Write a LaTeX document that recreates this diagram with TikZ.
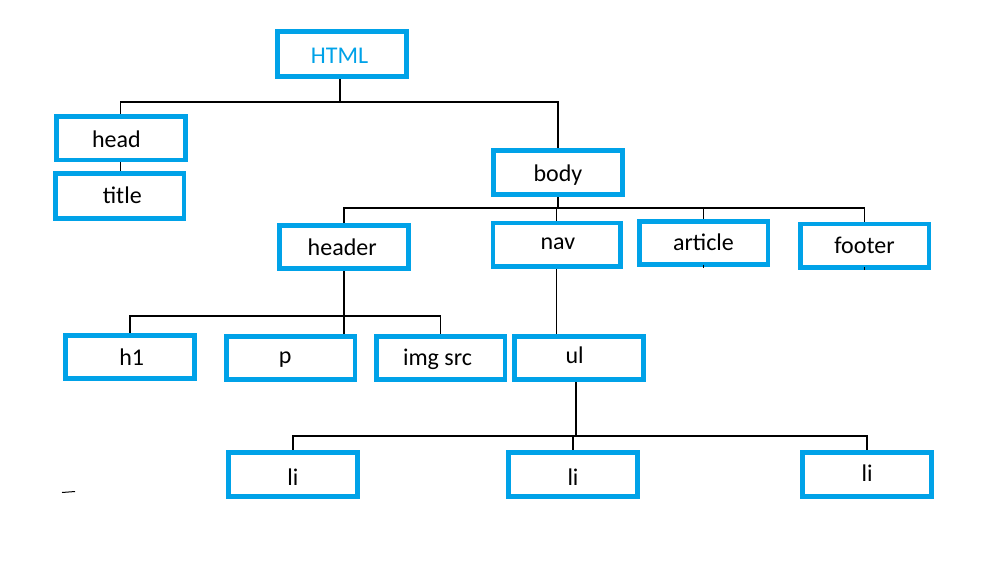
\documentclass[tikz,border=0pt]{standalone}
\usepackage{fontspec}
\setmainfont{Carlito}
\usetikzlibrary{backgrounds}
\definecolor{paintblue}{RGB}{0,162,232}
\newcommand\shifttext[3]{\raisebox{#2pt}{\hspace*{#1pt}#3\hspace*{-#1pt}}}
\tikzset{
  box/.style={draw=paintblue, line width=4.7pt, fill=white, rectangle, inner sep=0pt, outer sep=0pt,
    minimum width=128.7pt, minimum height=43.5pt, text height=16pt, text depth=0pt,
    font=\fontsize{24pt}{26pt}\selectfont, text=black},
  conn/.style={draw=black, line width=1.1pt}
}
\begin{document}
\begin{tikzpicture}[x=1pt, y=-1pt]
\useasboundingbox (0,0) rectangle (1003,571);
\node[box, minimum width=129pt, minimum height=45pt, text=paintblue] (html) at (341.85,53.85) {\shifttext{-2.3}{-1.5}{HTML}};
\node[box] (head) at (120.85,138.35) {\shifttext{-4.5}{-1.3}{head}};
\node[box, minimum height=45pt] (title) at (119.7,195.7) {\shifttext{2.6}{0}{title}};
\node[box, minimum height=44.3pt] (body) at (558,172.5) {\shifttext{0}{-1.2}{body}};
\node[box] (header) at (344,247) {\shifttext{-1.8}{0}{header}};
\node[box, minimum width=127.6pt] (nav) at (556.85,244.7) {\shifttext{1}{3.4}{nav}};
\node[box] (article) at (703.5,243) {\shifttext{0}{1}{article}};
\node[box] (footer) at (864.5,245.7) {\shifttext{0}{0}{footer}};
\node[box] (h1) at (130,357) {\shifttext{1.7}{0}{h1}};
\node[box] (p) at (290.5,358) {\shifttext{-5.2}{2.7}{p}};
\node[box] (img) at (440.5,358) {\shifttext{-3}{1}{img src}};
\node[box] (ul) at (579,358) {\shifttext{-4.3}{2.7}{ul}};
\node[box, minimum height=44.3pt] (li1) at (293,474.5) {\shifttext{0}{-2.5}{li}};
\node[box, minimum height=44.3pt] (li2) at (573,474.5) {\shifttext{0}{-2.5}{li}};
\node[box, minimum height=44.3pt] (li3) at (867,474.5) {\shifttext{0}{0.8}{li}};
\coordinate (j1) at (340,102);
\coordinate (j2) at (body.south |- 0,208);
\coordinate (j3) at (header.south |- 0,316);
\coordinate (j4) at (576,436);
\begin{pgfonlayer}{background}
\fill[white] (0,0) rectangle (1003,571);
\draw[conn] (html.south -| j1) -- (j1);
\draw[conn] (j1) -| (head.north);
\draw[conn] (j1) -| (body.north);
\draw[conn] (head.south) -- (head.south |- title.north);
\draw[conn] (body.south) -- (j2);
\draw[conn] (j2) -| (header.north);
\draw[conn] (j2) -| (nav.north);
\draw[conn] (j2) -| (article.north);
\draw[conn] (j2) -| (footer.north);
\draw[conn] (header.south) -- (j3);
\draw[conn] (j3) -| (h1.north);
\draw[conn] (j3) -- (j3 |- p.north);
\draw[conn] (j3) -| (img.north);
\draw[conn] (nav.south) -- (nav.south |- ul.north);
\draw[conn] (ul.south -| j4) -- (j4);
\draw[conn] (j4) -| (li1.north);
\draw[conn] (j4) -| (li2.north);
\draw[conn] (j4) -| (li3.north);
\end{pgfonlayer}
\draw[line width=1pt] (62,492.5) -- (75,491.5);
\draw[line width=1pt] (article.south) -- ++(0,3);
\draw[line width=1pt] (footer.south) -- ++(0,3);
\end{tikzpicture}
\end{document}
